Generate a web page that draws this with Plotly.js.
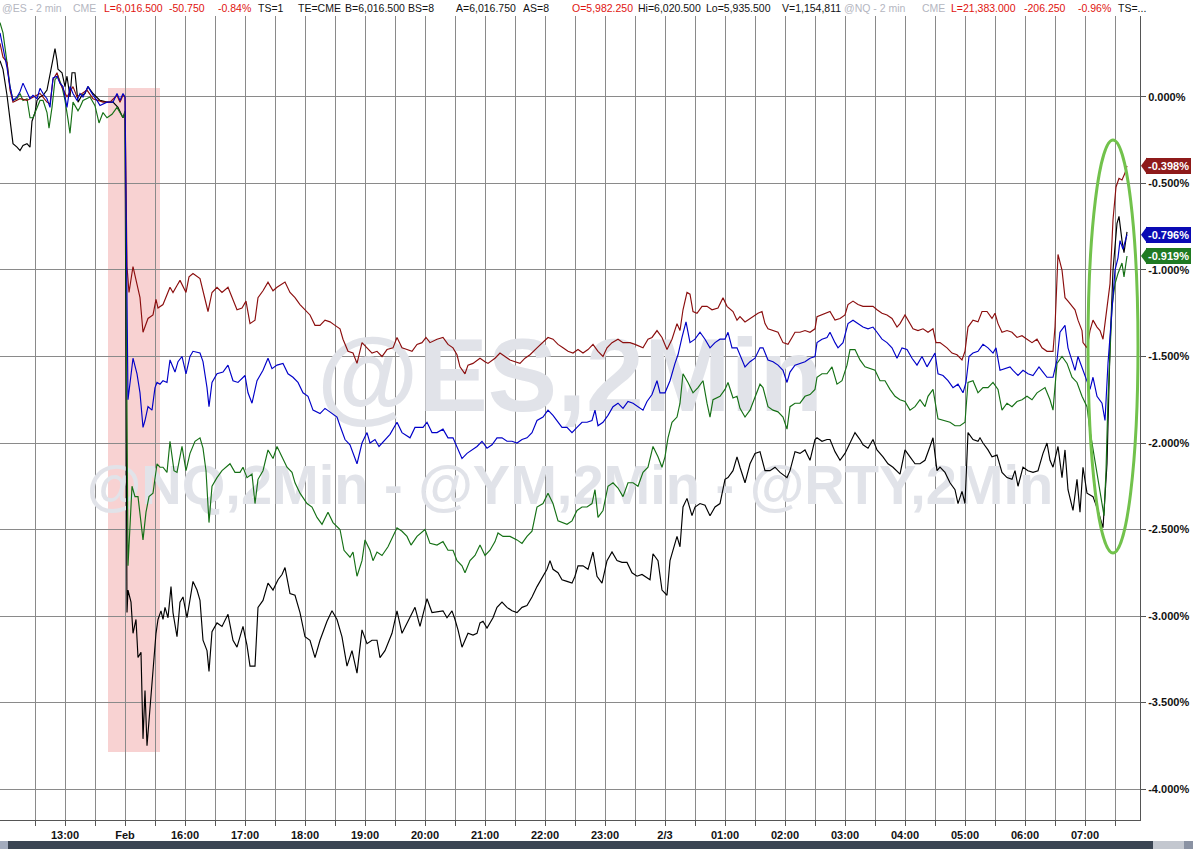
<!DOCTYPE html>
<html>
<head>
<meta charset="utf-8">
<script src="https://cdn.plot.ly/plotly-3.0.1.min.js"></script>
<style>
html,body{margin:0;padding:0;background:#fff;}
#chart{width:1193px;height:849px;}
</style>
</head>
<body>
<div id="chart"></div>
<script>
// Time axis: session minutes with the weekend gap removed (0 = Fri 11:55, 125 = Sun 15:00 open)
// Values: % change vs Friday's last bar
const ymSeries = [[0,0.31],[3,0.23],[7,0.20],[10,0.04],[13,-0.03],[20,-0.01],[27,-0.02],[33,0.00],[40,0.02],[47,-0.03],[50,-0.04],[53,0.10],[57,0.14],[60,0.08],[67,0.00],[73,0.06],[77,0.00],[87,0.04],[93,-0.01],[103,-0.03],[110,-0.03],[117,0.01],[120,-0.03],[123,0.01],[125,0.00],
[127,-0.98],[129,-1.13],[133,-0.98],[136,-1.05],[140,-1.16],[143,-1.36],[145,-1.33],[148,-1.28],[153,-1.26],[156,-1.17],[158,-1.22],[163,-1.20],[170,-1.10],[173,-1.13],[177,-1.09],[180,-1.06],[186,-1.13],[189,-1.04],[193,-1.02],[200,-1.05],
[208,-1.24],[212,-1.13],[217,-1.10],[222,-1.13],[228,-1.10],[232,-1.16],[237,-1.23],[242,-1.22],[246,-1.18],[250,-1.31],[255,-1.29],[258,-1.16],[263,-1.12],[268,-1.07],[273,-1.12],[277,-1.10],[280,-1.09],[285,-1.07],[290,-1.13],[295,-1.16],[300,-1.20],[305,-1.23],[310,-1.26],[315,-1.32],[320,-1.32],[325,-1.29],[330,-1.30],[335,-1.32],[340,-1.34],[343,-1.40],[348,-1.47],[353,-1.48],[357,-1.54],[362,-1.42],[367,-1.45],[372,-1.48],[377,-1.47],[382,-1.50],[387,-1.46],[393,-1.45],[397,-1.39],[402,-1.45],[407,-1.46],[412,-1.47],[417,-1.43],[422,-1.42],[426,-1.39],[430,-1.42],
[437,-1.40],[443,-1.39],[448,-1.43],[453,-1.45],[457,-1.49],[460,-1.56],[465,-1.60],[468,-1.55],[473,-1.54],[480,-1.51],[485,-1.53],[488,-1.54],[495,-1.51],[500,-1.48],[505,-1.50],[510,-1.52],[515,-1.53],[520,-1.54],[525,-1.51],[530,-1.49],[537,-1.45],[543,-1.42],[548,-1.39],[553,-1.40],[558,-1.43],[563,-1.45],[568,-1.47],[573,-1.48],[578,-1.46],[583,-1.48],[588,-1.46],[593,-1.43],[598,-1.47],[603,-1.50],[607,-1.45],[612,-1.42],[618,-1.40],[623,-1.42],[630,-1.42],[635,-1.43],[643,-1.45],[648,-1.40],[652,-1.39],[657,-1.35],[662,-1.39],[667,-1.46],[672,-1.40],[677,-1.31],[680,-1.35],[683,-1.23],[687,-1.13],[690,-1.14],[693,-1.24],[697,-1.25],[702,-1.21],[707,-1.21],[712,-1.23],[718,-1.22],[723,-1.16],[727,-1.21],
[733,-1.24],[737,-1.29],[740,-1.27],[745,-1.30],[750,-1.28],[755,-1.26],[758,-1.25],[762,-1.24],[765,-1.31],[768,-1.34],[773,-1.35],[778,-1.36],[783,-1.42],[788,-1.43],[792,-1.39],[795,-1.36],[800,-1.36],[805,-1.35],[810,-1.36],[815,-1.34],[817,-1.27],[822,-1.26],[827,-1.25],[830,-1.24],[835,-1.29],[840,-1.28],[845,-1.26],[848,-1.20],[853,-1.18],[858,-1.20],[863,-1.21],[868,-1.21],[873,-1.21],[877,-1.23],[882,-1.25],[887,-1.26],[892,-1.28],[897,-1.33],[900,-1.31],[905,-1.26],[908,-1.29],[913,-1.34],[918,-1.35],[923,-1.34],[928,-1.36],[933,-1.34],[936,-1.42],[940,-1.42],[947,-1.45],[952,-1.48],[957,-1.49],[962,-1.52],[965,-1.47],[968,-1.33],[973,-1.29],[978,-1.30],[982,-1.24],[987,-1.24],[992,-1.28],[995,-1.25],[998,-1.31],[1002,-1.36],[1007,-1.35],[1012,-1.36],[1017,-1.39],[1022,-1.38],[1027,-1.40],[1032,-1.42],[1037,-1.40],[1042,-1.45],[1047,-1.47],
[1053,-1.47],[1055,-1.33],[1058,-0.91],[1062,-1.00],[1065,-1.16],[1068,-1.18],[1072,-1.21],[1075,-1.23],[1078,-1.29],[1082,-1.35],[1083,-1.42],[1087,-1.45],[1090,-1.35],[1093,-1.29],[1097,-1.33],[1100,-1.35],[1103,-1.40],[1107,-1.23],[1110,-1.08],[1113,-0.71],[1116,-0.52],[1119,-0.47],[1122,-0.48],[1125,-0.44],[1127,-0.398]];

const esSeries = [[0,0.37],[3,0.29],[7,0.17],[10,0.06],[13,-0.02],[17,0.00],[20,0.03],[23,0.08],[27,0.03],[30,-0.01],[33,0.01],[37,-0.01],[40,0.05],[43,0.02],[47,-0.01],[50,-0.06],[53,0.11],[57,0.12],[60,0.08],[63,0.06],[67,-0.06],[70,0.06],[73,0.02],[77,-0.02],[80,0.02],[83,0.00],[88,0.06],[93,0.01],[97,-0.02],[100,-0.05],[107,-0.03],[113,-0.03],[117,0.02],[120,-0.02],[123,0.02],[125,0.00],
[128,-1.75],[133,-1.51],[137,-1.60],[140,-1.71],[143,-1.91],[145,-1.87],[148,-1.79],[152,-1.81],[155,-1.68],[157,-1.65],[160,-1.66],[163,-1.64],[167,-1.65],[170,-1.52],[175,-1.59],[178,-1.53],[182,-1.50],[186,-1.60],[190,-1.50],[193,-1.47],[200,-1.48],[203,-1.53],[207,-1.68],[209,-1.79],[212,-1.65],[217,-1.60],[223,-1.59],[228,-1.55],[233,-1.64],[238,-1.65],[245,-1.61],[248,-1.71],[252,-1.77],[257,-1.64],[263,-1.58],[268,-1.51],[272,-1.57],[277,-1.55],[283,-1.54],[288,-1.60],[293,-1.62],[298,-1.65],[303,-1.71],[308,-1.73],[313,-1.81],[320,-1.83],[325,-1.80],[330,-1.82],[337,-1.85],[340,-1.90],[345,-1.98],[350,-2.01],[357,-2.12],[362,-2.00],[367,-1.94],[370,-2.00],[375,-1.98],[379,-2.02],[385,-1.98],[390,-1.95],[397,-1.88],[402,-1.94],[410,-1.97],[415,-1.91],[423,-1.91],[427,-1.88],[432,-1.94],
[437,-1.94],[443,-1.92],[448,-1.97],[453,-1.97],[457,-2.02],[462,-2.09],[467,-2.06],[472,-2.04],[477,-2.02],[482,-1.99],[487,-2.03],[492,-2.01],[497,-1.97],[502,-1.97],[507,-1.99],[512,-1.99],[517,-2.00],[522,-1.98],[527,-1.97],[532,-1.94],[537,-1.87],[543,-1.85],[548,-1.81],[553,-1.84],[558,-1.88],[562,-1.91],[567,-1.91],[572,-1.94],[577,-1.91],[582,-1.88],[587,-1.88],[592,-1.87],[595,-1.81],[598,-1.90],[603,-1.88],[608,-1.84],[613,-1.79],[618,-1.77],[623,-1.80],[628,-1.76],[633,-1.77],[638,-1.79],[643,-1.81],[647,-1.76],[652,-1.72],[657,-1.64],[660,-1.71],[665,-1.71],[670,-1.64],[675,-1.54],[678,-1.49],[682,-1.39],[686,-1.30],[690,-1.42],[695,-1.40],[700,-1.36],[705,-1.40],[710,-1.45],[715,-1.42],[720,-1.40],[725,-1.40],[728,-1.36],
[732,-1.45],[737,-1.45],[740,-1.49],[745,-1.56],[750,-1.53],[755,-1.51],[760,-1.45],[763,-1.45],[768,-1.52],[773,-1.53],[778,-1.55],[783,-1.58],[787,-1.65],[790,-1.59],[795,-1.55],[800,-1.54],[805,-1.53],[810,-1.51],[815,-1.50],[817,-1.42],[822,-1.40],[827,-1.39],[830,-1.36],[835,-1.42],[838,-1.45],[843,-1.42],[848,-1.31],[853,-1.29],[858,-1.31],[863,-1.33],[868,-1.34],[873,-1.33],[877,-1.36],[882,-1.40],[887,-1.42],[892,-1.45],[897,-1.51],[902,-1.45],[907,-1.46],[912,-1.51],[917,-1.55],[922,-1.50],[927,-1.56],[932,-1.51],[935,-1.48],[938,-1.60],[943,-1.61],[948,-1.64],[953,-1.68],[958,-1.66],[963,-1.71],[966,-1.65],[969,-1.50],[973,-1.48],[978,-1.47],[983,-1.43],[988,-1.45],[993,-1.48],[996,-1.45],[1000,-1.58],[1005,-1.57],[1010,-1.56],[1013,-1.58],[1018,-1.61],[1023,-1.58],[1028,-1.60],[1033,-1.61],[1039,-1.56],[1043,-1.59],[1047,-1.62],
[1053,-1.62],[1057,-1.52],[1060,-1.36],[1065,-1.32],[1068,-1.45],[1072,-1.52],[1075,-1.58],[1078,-1.50],[1083,-1.58],[1087,-1.65],[1090,-1.69],[1093,-1.62],[1097,-1.73],[1102,-1.77],[1105,-1.87],[1108,-1.54],[1112,-1.23],[1115,-1.00],[1118,-0.93],[1120,-0.83],[1123,-0.88],[1126,-0.81],[1127,-0.796]];

const nqSeries = [[0,0.43],[3,0.37],[7,0.20],[10,0.06],[13,-0.02],[17,-0.01],[20,0.02],[23,-0.02],[27,-0.01],[30,-0.12],[33,-0.12],[37,-0.06],[40,-0.02],[43,-0.02],[47,-0.09],[49,-0.18],[52,-0.06],[55,0.10],[58,0.12],[62,0.06],[65,-0.02],[68,-0.13],[70,-0.21],[73,-0.03],[78,-0.08],[80,-0.06],[83,-0.02],[90,0.00],[95,-0.05],[99,-0.15],[103,-0.09],[107,-0.12],[112,-0.10],[117,-0.06],[120,-0.09],[123,-0.12],[125,-0.08],
[128,-2.71],[132,-2.25],[135,-2.31],[138,-2.31],[141,-2.45],[143,-2.56],[146,-2.40],[149,-2.31],[153,-2.29],[157,-2.12],[160,-2.14],[163,-2.14],[167,-2.17],[170,-1.99],[174,-2.16],[177,-2.17],[182,-2.02],[186,-2.16],[190,-2.06],[195,-1.99],[200,-1.97],[203,-2.03],[206,-2.16],[209,-2.46],[212,-2.25],[217,-2.20],[222,-2.16],[230,-2.12],[235,-2.17],[240,-2.17],[243,-2.14],[247,-2.20],[252,-2.18],[255,-2.35],[258,-2.21],[263,-2.16],[268,-2.04],[273,-2.09],[277,-2.02],[282,-2.08],[287,-2.14],[292,-2.17],[295,-2.23],[300,-2.29],[307,-2.35],[312,-2.37],[317,-2.43],[322,-2.47],[328,-2.40],[333,-2.46],[340,-2.50],[344,-2.62],[350,-2.66],[353,-2.63],[357,-2.77],[362,-2.68],[365,-2.56],[370,-2.62],[373,-2.68],[377,-2.63],[382,-2.65],[388,-2.60],[397,-2.49],[402,-2.51],[407,-2.54],[411,-2.59],[417,-2.54],[425,-2.50],[430,-2.58],
[437,-2.59],[443,-2.57],[448,-2.62],[453,-2.62],[457,-2.68],[462,-2.71],[465,-2.75],[470,-2.68],[475,-2.65],[480,-2.59],[485,-2.65],[490,-2.62],[495,-2.57],[498,-2.52],[503,-2.54],[510,-2.54],[517,-2.56],[522,-2.58],[527,-2.54],[532,-2.51],[537,-2.37],[543,-2.35],[548,-2.29],[553,-2.35],[558,-2.45],[562,-2.46],[567,-2.47],[572,-2.45],[577,-2.39],[582,-2.37],[587,-2.37],[592,-2.35],[595,-2.27],[598,-2.43],[603,-2.39],[608,-2.25],[613,-2.23],[618,-2.26],[623,-2.31],[628,-2.23],[633,-2.23],[638,-2.25],[643,-2.17],[648,-2.14],[653,-2.02],[658,-2.08],[662,-2.14],[665,-2.08],[668,-1.97],[672,-1.88],[677,-1.85],[680,-1.77],[683,-1.60],[688,-1.65],[693,-1.71],[698,-1.68],[703,-1.64],[707,-1.77],[710,-1.85],[713,-1.75],[720,-1.73],[725,-1.69],[728,-1.65],
[733,-1.74],[737,-1.73],[740,-1.80],[745,-1.85],[750,-1.81],[755,-1.73],[760,-1.66],[763,-1.68],[768,-1.79],[773,-1.81],[778,-1.82],[783,-1.85],[787,-1.92],[790,-1.79],[795,-1.77],[800,-1.77],[805,-1.73],[810,-1.72],[815,-1.69],[817,-1.62],[822,-1.60],[827,-1.60],[832,-1.56],[837,-1.66],[842,-1.64],[847,-1.55],[850,-1.46],[855,-1.46],[860,-1.52],[865,-1.56],[870,-1.57],[875,-1.58],[880,-1.64],[885,-1.64],[890,-1.69],[895,-1.73],[900,-1.75],[905,-1.76],[910,-1.81],[915,-1.79],[920,-1.75],[925,-1.79],[928,-1.73],[933,-1.69],[938,-1.86],[943,-1.87],[950,-1.88],[955,-1.90],[960,-1.90],[965,-1.88],[968,-1.65],[973,-1.64],[978,-1.71],[983,-1.68],[988,-1.68],[993,-1.65],[998,-1.69],[1002,-1.81],[1007,-1.77],[1012,-1.79],[1017,-1.76],[1022,-1.75],[1027,-1.73],[1032,-1.75],[1037,-1.71],[1045,-1.68],[1050,-1.75],
[1053,-1.81],[1057,-1.54],[1062,-1.50],[1067,-1.54],[1072,-1.62],[1077,-1.65],[1082,-1.73],[1087,-1.79],[1090,-1.93],[1095,-2.10],[1100,-2.27],[1104,-2.42],[1106,-2.16],[1108,-1.75],[1112,-1.21],[1115,-1.08],[1118,-1.02],[1122,-0.96],[1124,-1.04],[1127,-0.919]];

const rtySeries = [[0,0.21],[3,0.16],[7,0.01],[10,-0.13],[13,-0.27],[17,-0.29],[20,-0.31],[23,-0.28],[27,-0.27],[30,-0.29],[32,-0.14],[35,-0.09],[37,-0.02],[40,0.00],[43,0.01],[47,0.04],[50,0.13],[53,0.21],[55,0.28],[57,0.21],[58,0.16],[62,0.14],[65,0.06],[67,0.12],[70,0.00],[72,0.14],[75,0.14],[78,-0.03],[82,0.01],[85,0.02],[88,0.06],[93,0.02],[97,0.00],[100,-0.02],[107,-0.03],[113,-0.03],[118,-0.06],[123,-0.12],[125,-0.09],
[127,-2.98],[128,-2.85],[131,-2.92],[133,-3.10],[136,-3.02],[138,-3.24],[141,-3.21],[143,-3.71],[145,-3.43],[147,-3.75],[151,-3.47],[153,-3.35],[156,-3.10],[158,-3.02],[161,-2.97],[163,-3.02],[165,-2.95],[168,-3.01],[171,-2.83],[173,-2.98],[177,-3.12],[180,-2.92],[183,-2.89],[187,-3.01],[190,-2.89],[193,-2.80],[197,-2.85],[200,-2.91],[203,-3.14],[207,-3.20],[209,-3.32],[212,-3.09],[217,-3.04],[222,-3.06],[228,-2.99],[233,-3.14],[237,-3.18],[243,-3.06],[247,-3.17],[250,-3.29],[255,-3.29],[258,-2.95],[263,-2.91],[268,-2.81],[273,-2.85],[278,-2.79],[282,-2.76],[285,-2.72],[290,-2.87],[295,-2.88],[300,-2.98],[305,-3.12],[310,-3.14],[315,-3.24],[320,-3.14],[327,-3.03],[332,-2.97],[337,-3.02],[342,-3.12],[347,-3.29],[352,-3.20],[357,-3.33],[362,-3.08],[367,-3.16],[372,-3.14],[377,-3.14],[380,-3.24],[385,-3.20],[392,-3.10],[397,-2.97],[402,-3.10],[407,-3.04],[415,-2.95],[420,-3.06],[427,-2.90],[432,-2.98],[440,-2.97],
[443,-2.97],[447,-3.01],[452,-2.97],[455,-3.02],[458,-3.08],[462,-3.18],[465,-3.14],[468,-3.10],[473,-3.11],[477,-3.10],[480,-3.04],[483,-3.03],[487,-3.07],[493,-3.01],[497,-2.95],[502,-2.92],[507,-2.95],[512,-2.97],[517,-2.98],[522,-2.95],[527,-2.94],[532,-2.89],[537,-2.83],[543,-2.77],[547,-2.73],[550,-2.68],[553,-2.73],[558,-2.75],[562,-2.79],[567,-2.80],[572,-2.81],[575,-2.77],[578,-2.71],[583,-2.71],[588,-2.73],[593,-2.63],[597,-2.77],[602,-2.81],[607,-2.68],[612,-2.63],[617,-2.68],[622,-2.69],[627,-2.69],[632,-2.75],[637,-2.77],[642,-2.76],[647,-2.78],[650,-2.79],[653,-2.64],[658,-2.68],[662,-2.85],[667,-2.88],[670,-2.68],[673,-2.62],[677,-2.54],[680,-2.60],[683,-2.37],[687,-2.32],[692,-2.42],[695,-2.37],[700,-2.35],[705,-2.36],[710,-2.42],[715,-2.37],[720,-2.35],[725,-2.21],[728,-2.20],
[733,-2.16],[737,-2.08],[740,-2.14],[745,-2.23],[750,-2.12],[755,-2.06],[760,-2.05],[765,-2.16],[770,-2.16],[775,-2.14],[780,-2.17],[787,-2.20],[790,-2.16],[795,-2.05],[800,-2.06],[805,-2.04],[810,-2.10],[815,-1.98],[817,-1.97],[822,-1.99],[827,-1.98],[830,-1.98],[835,-2.05],[840,-2.10],[845,-2.06],[850,-2.00],[855,-1.94],[860,-1.98],[863,-2.01],[868,-2.03],[873,-1.98],[877,-2.04],[883,-2.08],[888,-2.12],[893,-2.14],[900,-2.18],[905,-2.04],[910,-2.08],[915,-2.12],[920,-2.12],[925,-2.10],[930,-2.02],[933,-1.97],[937,-2.16],[940,-2.14],[945,-2.17],[950,-2.23],[955,-2.27],[958,-2.35],[962,-2.28],[965,-2.35],[968,-1.94],[973,-1.98],[978,-1.99],[980,-1.97],[983,-2.00],[988,-2.04],[992,-2.08],[997,-2.07],[1002,-2.17],[1007,-2.20],[1012,-2.21],[1015,-2.16],[1018,-2.25],[1023,-2.14],[1028,-2.16],[1033,-2.17],[1038,-2.16],[1043,-2.06],[1047,-2.00],
[1050,-2.10],[1053,-2.14],[1058,-2.02],[1062,-2.20],[1065,-2.04],[1068,-2.27],[1073,-2.39],[1077,-2.21],[1080,-2.40],[1083,-2.14],[1087,-2.29],[1093,-2.31],[1098,-2.39],[1103,-2.49],[1107,-2.12],[1110,-1.45],[1113,-1.00],[1117,-0.73],[1119,-0.69],[1122,-0.83],[1124,-0.90],[1127,-0.78]];

const xTickTimes = [35,65,95,125,155,185,215,245,275,305,335,365,395,425,455,485,515,545,575,605,635,665,695,725,755,785,815,845,875,905,935,965,995,1025,1055,1085,1115];
const xTickLabels = ['','13:00','','Feb','','16:00','','17:00','','18:00','','19:00','','20:00','','21:00','','22:00','','23:00','','2/3','','01:00','','02:00','','03:00','','04:00','','05:00','','06:00','','07:00',''];
const yTickValues = [0,-0.5,-1,-1.5,-2,-2.5,-3,-3.5,-4];
const yTickLabels = ['0.000%','-0.500%','-1.000%','-1.500%','-2.000%','-2.500%','-3.000%','-3.500%','-4.000%'];

// Highlighted regions (time, %)
const openDropWindow = {t0:108, t1:160, top:0.052, bottom:-3.786};
const reboundWindow  = {t0:1088, t1:1138, top:-0.249, bottom:-2.636};

const headerTokens = [
  ['@ES - 2 min','g',1],['CME','g',72],['L=6,016.500','r',103],['-50.750','r',168],['-0.84%','r',217],
  ['TS=1','k',257],['TE=CME','k',297],['B=6,016.500','k',344],['BS=8','k',407],['A=6,016.750','k',455],
  ['AS=8','k',522],['O=5,982.250','r',571],['Hi=6,020.500','k',637],['Lo=5,935.500','k',705],['V=1,154,811','k',781],
  ['@NQ - 2 min','g',843],['CME','g',921],['L=21,383.000','r',950],['-206.250','r',1023],['-0.96%','r',1077],['TS=...','k',1117]
];

const W = 1193, H = 849;
const M = {l:0, r:53, t:16, b:29};
const PW = W - M.l - M.r, PH = H - M.t - M.b;
const xRange = [0, 1140];
const yRange = [-4.179, 0.468];
const FONT = 'Liberation Sans, Arial, sans-serif';

const COL = {ym:'#8B0E0E', es:'#0000C8', nq:'#157015', rty:'#000000'};
const headerColor = {g:'#b4b6bf', r:'#e0140f', k:'#111111'};

function lineTrace(series, color, name){
  return {type:'scatter', mode:'lines', name:name,
    x: series.map(p=>p[0]), y: series.map(p=>p[1]),
    line:{color:color, width:1.15}, hoverinfo:'skip', showlegend:false};
}
function yAtFrac(f){ return yRange[1] - f*(yRange[1]-yRange[0]); }

const wmColor = '#e1e3e9';
const traces = [
  {type:'scatter', mode:'text', x:[(xRange[0]+xRange[1])/2], y:[yAtFrac(0.459)], text:['@ES,2Min'],
   textfont:{family:FONT, size:104, color:wmColor, weight:'bold'}, hoverinfo:'skip', showlegend:false, cliponaxis:false},
  {type:'scatter', mode:'text', x:[(xRange[0]+xRange[1])/2], y:[yAtFrac(0.59)], text:['@NQ,2Min - @YM,2Min - @RTY,2Min'],
   textfont:{family:FONT, size:56, color:wmColor, weight:'bold'}, hoverinfo:'skip', showlegend:false, cliponaxis:false},
  lineTrace(rtySeries, COL.rty, '@RTY'),
  lineTrace(nqSeries, COL.nq, '@NQ'),
  lineTrace(ymSeries, COL.ym, '@YM'),
  lineTrace(esSeries, COL.es, '@ES')
];

const annotations = [];
const shapes = [];

// header line
const headerY = 1 + 8/PH;
headerTokens.forEach(([txt, c, px])=>{
  annotations.push({xref:'paper', yref:'paper', x:px/PW, y:headerY, xanchor:'left', yanchor:'middle',
    text:txt, showarrow:false, borderpad:0, font:{family:FONT, size:10.5, color:headerColor[c]}});
});

// last-value labels
const lastLabels = [
  {series:ymSeries, bg:'#8E1A1A'},
  {series:esSeries, bg:'#0A0AB4'},
  {series:nqSeries, bg:'#1F7A22'}
];
lastLabels.forEach(l=>{
  const v = l.series[l.series.length-1][1];
  annotations.push({xref:'paper', yref:'y', x:1 + 6/PW, y:v, xanchor:'left', yanchor:'middle',
    text:v.toFixed(3)+'%', showarrow:false, bgcolor:l.bg, bordercolor:l.bg, borderwidth:1, borderpad:1,
    font:{family:FONT, size:11, color:'#ffffff', weight:'bold'}});
  shapes.push({type:'path', xref:'paper', yref:'y', layer:'above',
    path:`M ${1+1/PW},${v} L ${1+7/PW},${v+0.048} L ${1+7/PW},${v-0.048} Z`,
    fillcolor:l.bg, line:{width:0}});
});

// highlight box at the open
shapes.push({type:'rect', xref:'x', yref:'y', layer:'below',
  x0:openDropWindow.t0, x1:openDropWindow.t1, y0:openDropWindow.bottom, y1:openDropWindow.top,
  fillcolor:'#f8d2d2', line:{width:0}});
// green ellipse around the rebound
shapes.push({type:'circle', xref:'x', yref:'y', layer:'above',
  x0:reboundWindow.t0, x1:reboundWindow.t1, y0:reboundWindow.bottom, y1:reboundWindow.top,
  line:{color:'#72c24c', width:3}});

// scrollbar strip under the axis
const sbTop = -(841 - (M.t+PH))/PH, sbBot = -(H - (M.t+PH))/PH;
shapes.push({type:'rect', xref:'paper', yref:'paper', x0:0, x1:W/PW, y0:sbBot, y1:sbTop, fillcolor:'#3b4553', line:{width:0}, layer:'above'});
shapes.push({type:'rect', xref:'paper', yref:'paper', x0:0, x1:8/PW, y0:sbBot, y1:sbTop, fillcolor:'#a3abbd', line:{width:0}, layer:'above'});
shapes.push({type:'rect', xref:'paper', yref:'paper', x0:1153/PW, x1:1184/PW, y0:sbBot, y1:sbTop, fillcolor:'#c3c7cf', line:{width:0}, layer:'above'});
shapes.push({type:'rect', xref:'paper', yref:'paper', x0:1184/PW, x1:W/PW, y0:sbBot, y1:sbTop, fillcolor:'#8a92a3', line:{width:0}, layer:'above'});

const layout = {
  width:W, height:H, margin:M,
  paper_bgcolor:'#ffffff', plot_bgcolor:'#ffffff',
  showlegend:false,
  xaxis:{range:xRange, tickmode:'array', tickvals:xTickTimes, ticktext:xTickLabels,
    showgrid:true, gridcolor:'#8a8a8a', gridwidth:1, zeroline:false,
    showline:true, linecolor:'#555555', linewidth:1, ticks:'outside', ticklen:5, tickcolor:'#555555',
    tickfont:{family:FONT, size:11, color:'#111', weight:'bold'}, fixedrange:true},
  yaxis:{range:yRange, side:'right', tickmode:'array', tickvals:yTickValues, ticktext:yTickLabels,
    showgrid:true, gridcolor:'#8a8a8a', gridwidth:1, zeroline:false,
    showline:true, linecolor:'#555555', linewidth:1, ticks:'outside', ticklen:5, tickcolor:'#555555',
    tickfont:{family:FONT, size:11, color:'#111', weight:'bold'}, fixedrange:true},
  annotations:annotations,
  shapes:shapes
};

Plotly.newPlot('chart', traces, layout, {staticPlot:true, displayModeBar:false});
</script>
</body>
</html>
